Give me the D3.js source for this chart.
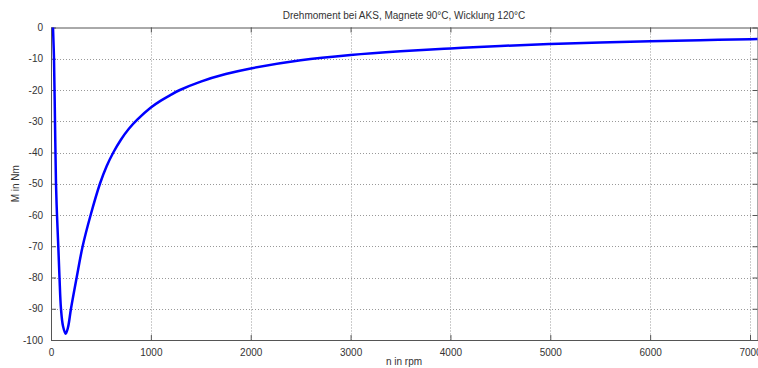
<!DOCTYPE html>
<html>
<head>
<meta charset="utf-8">
<script src="https://cdn.jsdelivr.net/npm/d3@7"></script>
<style>
  body { margin: 0; background: #fff; }
  svg { display: block; }
  text { font-family: "Liberation Sans", Arial, Helvetica, sans-serif; fill: #333; }
</style>
</head>
<body>
<svg id="chart" width="758" height="368"></svg>
<script>
// ---- data ----
const titleText = "Drehmoment bei AKS, Magnete 90°C, Wicklung 120°C";
const xLabel = "n in rpm";
const yLabel = "M in Nm";
const xTicks = [0, 1000, 2000, 3000, 4000, 5000, 6000, 7000];
const yTicks = [0, -10, -20, -30, -40, -50, -60, -70, -80, -90, -100];
const speed = [20, 30, 40, 50, 60, 73, 85, 100, 120, 147, 170, 200, 257, 317, 397, 490, 557, 624, 700, 780, 864, 1000, 1100, 1191, 1291, 1500, 1750, 2000, 2500, 3000, 3500, 4000, 4500, 5000, 5500, 6000, 6500, 7000, 7075];
const torque = [0, -10, -30, -50, -60, -70, -80, -90, -95.5, -98, -96, -90, -80, -70, -60, -50, -44.4, -40, -35.9, -32.4, -29.5, -25.6, -23.4, -21.7, -20.0, -17.3, -14.9, -13.1, -10.5, -8.8, -7.6, -6.7, -5.9, -5.3, -4.8, -4.4, -4.05, -3.75, -3.7];

// ---- layout ----
const L = 51, R = 757.5, T = 27.5, B = 340;
const svg = d3.select("#chart");
const x = d3.scaleLinear().domain([0, 7075]).range([L, R]);
const y = d3.scaleLinear().domain([-100, 0]).range([B, T]);

// grid
const grid = svg.append("g").attr("stroke", "#999").attr("stroke-width", 1).attr("stroke-dasharray", "1,2");
grid.selectAll(".gx").data(xTicks.filter(d => d > 0)).enter().append("line")
  .attr("x1", d => Math.round(x(d)) + 0.5).attr("x2", d => Math.round(x(d)) + 0.5)
  .attr("y1", T).attr("y2", B);
grid.selectAll(".gy").data(yTicks.filter(d => d > -100 && d < 0)).enter().append("line")
  .attr("y1", d => Math.round(y(d)) + 0.5).attr("y2", d => Math.round(y(d)) + 0.5)
  .attr("x1", L).attr("x2", R);

// axes
const axisColor = "#555";
const fmt = d => String(d);
function styleAxis(g) {
  g.select(".domain").attr("stroke", axisColor);
  g.selectAll(".tick line").attr("stroke", axisColor);
  g.selectAll(".tick text").attr("fill", "#333").style("font-size", "10px")
   .style("font-family", '"Liberation Sans", Arial, sans-serif');
}
const xAxis = svg.append("g").attr("transform", `translate(0,${B})`)
  .call(d3.axisBottom(x).tickValues(xTicks).tickFormat(fmt).tickSizeInner(-5).tickSizeOuter(0).tickPadding(9));
styleAxis(xAxis);
const xTop = svg.append("g").attr("transform", `translate(0,${T})`)
  .call(d3.axisTop(x).tickValues(xTicks).tickFormat("").tickSizeInner(-5).tickSizeOuter(0));
styleAxis(xTop);
const yAxis = svg.append("g").attr("transform", `translate(${L},0)`)
  .call(d3.axisLeft(y).tickValues(yTicks).tickFormat(fmt).tickSizeInner(-5).tickSizeOuter(0).tickPadding(8));
styleAxis(yAxis);
const yRight = svg.append("g").attr("transform", `translate(${R},0)`)
  .call(d3.axisRight(y).tickValues(yTicks).tickFormat("").tickSizeInner(-5).tickSizeOuter(0));
styleAxis(yRight);

// curve
const pts = speed.map((s, i) => [s, torque[i]]);
const line = d3.line().x(d => x(d[0])).y(d => y(d[1])).curve(d3.curveCatmullRom.alpha(0.5));
svg.append("path").datum(pts).attr("d", line)
  .attr("fill", "none").attr("stroke", "#0000ff").attr("stroke-width", 2.5).attr("stroke-linejoin", "round");

// labels
svg.append("text").attr("x", 404).attr("y", 19).attr("text-anchor", "middle")
  .style("font-size", "10px").text(titleText);
svg.append("text").attr("x", 404).attr("y", 365).attr("text-anchor", "middle")
  .style("font-size", "10px").text(xLabel);
svg.append("text").attr("transform", `translate(19,${(T + B) / 2}) rotate(-90)`).attr("text-anchor", "middle")
  .style("font-size", "10px").text(yLabel);
</script>
</body>
</html>
